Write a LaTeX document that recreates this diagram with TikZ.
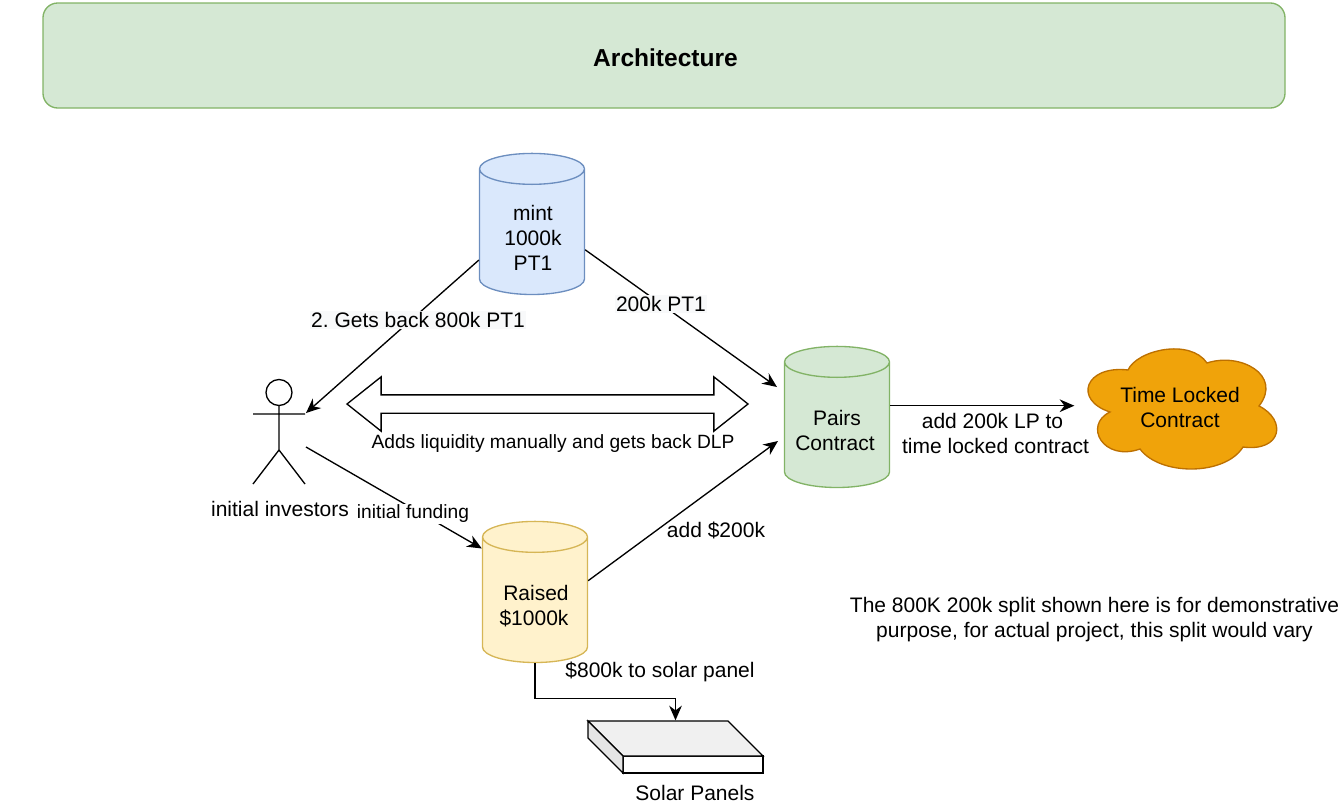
\documentclass[tikz,border=0pt]{standalone}
\usepackage{fontspec}
\setmainfont{Liberation Sans}
\usepackage{tikz}
\usetikzlibrary{arrows.meta,calc,positioning,shapes.geometric,shapes.arrows}
\definecolor{PanelGreen}{HTML}{D5E8D4}
\definecolor{EdgeGreen}{HTML}{82B366}
\definecolor{PanelBlue}{HTML}{DAE8FC}
\definecolor{EdgeBlue}{HTML}{6C8EBF}
\definecolor{PanelYellow}{HTML}{FFF2CC}
\definecolor{EdgeYellow}{HTML}{D6B656}
\definecolor{CloudOrange}{HTML}{F0A30A}
\definecolor{EdgeOrange}{HTML}{BD7000}
\definecolor{LabelBack}{HTML}{F8F9FA}
\begin{document}
\begin{tikzpicture}[
      x=0.75pt,y=-0.75pt,
      line width=1pt,
      txt/.style={inner sep=0pt,align=center,font=\fontsize{15.75}{18.75}\selectfont},
      small/.style={inner sep=1pt,align=center,font=\fontsize{14.4}{17}\selectfont},
      barrel/.style={cylinder,shape border rotate=90,shape aspect=1,draw,cylinder uses custom fill,minimum width=78.75pt,minimum height=105pt,inner xsep=11.6pt,inner ysep=39.375pt,line width=1pt},
      arrow/.style={-{Stealth[length=11pt,width=9.5pt]},line width=1pt,draw=black}
    ]
      \useasboundingbox (0,0) rectangle (1340,811);
      \node[draw=EdgeGreen,fill=PanelGreen,rounded corners=11pt,minimum width=931.5pt,minimum height=78.75pt,line width=1pt] (title) at (664,55.5) {};
      \node[inner sep=0pt,font=\fontsize{18.4}{22}\selectfont\bfseries] (titlelabel) at (665.5,58) {Architecture};

      \node[barrel,draw=EdgeBlue,cylinder body fill=PanelBlue,cylinder end fill=PanelBlue] (mint) at (532,237.5) {};
      \node[barrel,draw=EdgeGreen,cylinder body fill=PanelGreen,cylinder end fill=PanelGreen] (pairs) at (837,430.5) {};
      \node[barrel,draw=EdgeYellow,cylinder body fill=PanelYellow,cylinder end fill=PanelYellow] (raised) at (535,605.5) {};
      \node[txt] (mintlabel) at (533,237.5) {mint\\1000k\\PT1};
      \node[txt] (pairslabel) at (835,430) {\hspace*{3pt}Pairs\\Contract};
      \node[txt] (raisedlabel) at (534,606) {\hspace*{3pt}Raised\\\$1000k};

      % stick figure
      \node[minimum width=39pt,minimum height=78.75pt,inner sep=0pt] (investors) at (279,431.5) {};
      \draw (279,392.5) circle (13);
      \draw (279,405.5) -- (279,450) (253,414) -- (305,414) (253,484) -- (279,450) -- (305,484);
      \node[txt] (investorslabel) at (280,509) {initial investors};
      \coordinate (hand) at (306,413);
      \coordinate (hip) at (306,447);

      % cloud outline
      \draw[draw=EdgeOrange,fill=CloudOrange,line width=1pt] (1128,370)
        .. controls (1137,350) and (1190,338) .. (1207,363)
        .. controls (1240,352) and (1283,375) .. (1259,406)
        .. controls (1287,420) and (1282,452) .. (1243,447)
        .. controls (1225,476) and (1160,476) .. (1140,449)
        .. controls (1103,462) and (1083,425) .. (1110,412)
        .. controls (1073,400) and (1085,365) .. cycle;
      \node[txt,minimum width=157.5pt] (timelock) at (1180,407.5) {Time Locked\\Contract};

      % solar block
      \node[minimum width=131.25pt,minimum height=39pt,inner sep=0pt] (solar) at (675.5,747) {};
      \draw[fill=white] (623,756) rectangle (763,773);
      \draw[fill=black!6] (588,721) -- (728,721) -- (763,756) -- (623,756) -- cycle;
      \draw[fill=black!10] (588,721) -- (623,756) -- (623,773) -- (588,738) -- cycle;
      \node[txt] (solarlabel) at (695,793) {Solar Panels};

      \node[double arrow,draw,fill=white,minimum height=300.75pt,inner xsep=0pt,inner ysep=6.375pt,double arrow head extend=13.5pt,double arrow tip angle=77] (liquidity) at (547.5,404) {};
      \node[small,inner sep=0pt] (liquiditylabel) at (553,444) {Adds liquidity manually and gets back DLP};

      \coordinate (pairsupper) at (777,387);
      \coordinate (pairslower) at (778,441);
      \draw[arrow] (mint.203) -- (hand);
      \draw[arrow] (mint.347) -- (pairsupper);
      \draw[arrow] (hip) -- (raised.133);
      \draw[arrow] (raised.25) -- (pairslower);
      \draw[arrow] (pairs.25) -- (pairs.25 -| timelock.west);
      \draw[arrow] (raised.south) -- ++(0,35) -| (solar.north);

      \node[txt,fill=LabelBack,inner sep=1pt] (backlabel) at (418,320) {2.\ Gets back 800k PT1};
      \node[txt,fill=LabelBack,inner sep=1pt] (sharelabel) at (661,304) {200k PT1};
      \node[small,fill=white] (fundinglabel) at (413,514) {initial funding};
      \node[txt] (addlabel) at (716,530) {add \$200k};
      \node[txt] (lplabel) at (995.5,433) {add 200k LP to\hspace*{4.5pt}\\time locked contract};
      \node[txt] (panellabel) at (660,672) {\$800k to solar panel};
      \node[txt] (notelabel) at (1094.5,619.5) {The 800K 200k split shown here is for demonstrative\\purpose, for actual project, this split would vary};
    \end{tikzpicture}
\end{document}
